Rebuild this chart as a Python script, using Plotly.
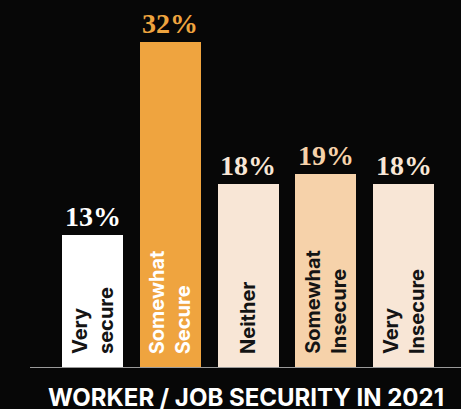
import plotly.graph_objects as go

categories = ["Very<br>secure", "Somewhat<br>Secure", "Neither", "Somewhat<br>Insecure", "Very<br>Insecure"]
values = [13, 32, 18, 19, 18]
value_labels = ["13%", "32%", "18%", "19%", "18%"]
bar_colors = ["#ffffff", "#efa43f", "#f8e6d6", "#f6d2aa", "#f8e6d6"]
label_colors = ["#ffffff", "#efa43f", "#f8e6d6", "#f6d2aa", "#f8e6d6"]
inner_text_colors = ["#141414", "#ffffff", "#141414", "#141414", "#141414"]
title_text = "WORKER / JOB SECURITY IN 2021"

W, H = 461, 409
base_px = 368
step = 77.75
x0_px = 92.5

fig = go.Figure()
fig.add_trace(go.Bar(
    x=list(range(len(values))), y=values,
    marker=dict(color=bar_colors, line=dict(width=0)),
    width=61 / step,
    hoverinfo="skip",
))

for i, (v, lab, col) in enumerate(zip(values, value_labels, label_colors)):
    fig.add_annotation(
        x=i, y=v, xref="x", yref="y", text="<b>" + lab + "</b>",
        showarrow=False, yanchor="bottom", xanchor="center", yshift=1,
        font=dict(family="Liberation Serif", size=28, color=col),
    )

for i, (c, tc) in enumerate(zip(categories, inner_text_colors)):
    fig.add_annotation(
        x=i, y=0, xref="x", yref="y", text=c, textangle=-90,
        showarrow=False, yanchor="bottom", xanchor="center", yshift=12,
        align="left",
        font=dict(family="Inter", size=20, color=tc, weight=700),
    )

fig.add_annotation(
    x=246 / W, y=-(397 - base_px) / base_px, xref="paper", yref="paper",
    text=title_text, showarrow=False, xanchor="center", yanchor="middle",
    font=dict(family="Inter", size=24, color="#ffffff", weight=700),
)

fig.add_shape(type="line", xref="paper", yref="y", x0=30 / W, x1=1, y0=0, y1=0,
              line=dict(color="#9a9a9a", width=2))

fig.update_layout(
    width=W, height=H,
    margin=dict(l=0, r=0, t=0, b=H - base_px),
    paper_bgcolor="#070707", plot_bgcolor="#070707",
    showlegend=False,
    xaxis=dict(range=[-x0_px / step, (W - x0_px) / step], visible=False, fixedrange=True),
    yaxis=dict(range=[0, base_px / 10.2], visible=False, fixedrange=True),
    bargap=0,
)

fig.write_html("out.html", config={"displayModeBar": False},
               post_script="document.body.style.margin='0';document.body.style.background='#070707';")
